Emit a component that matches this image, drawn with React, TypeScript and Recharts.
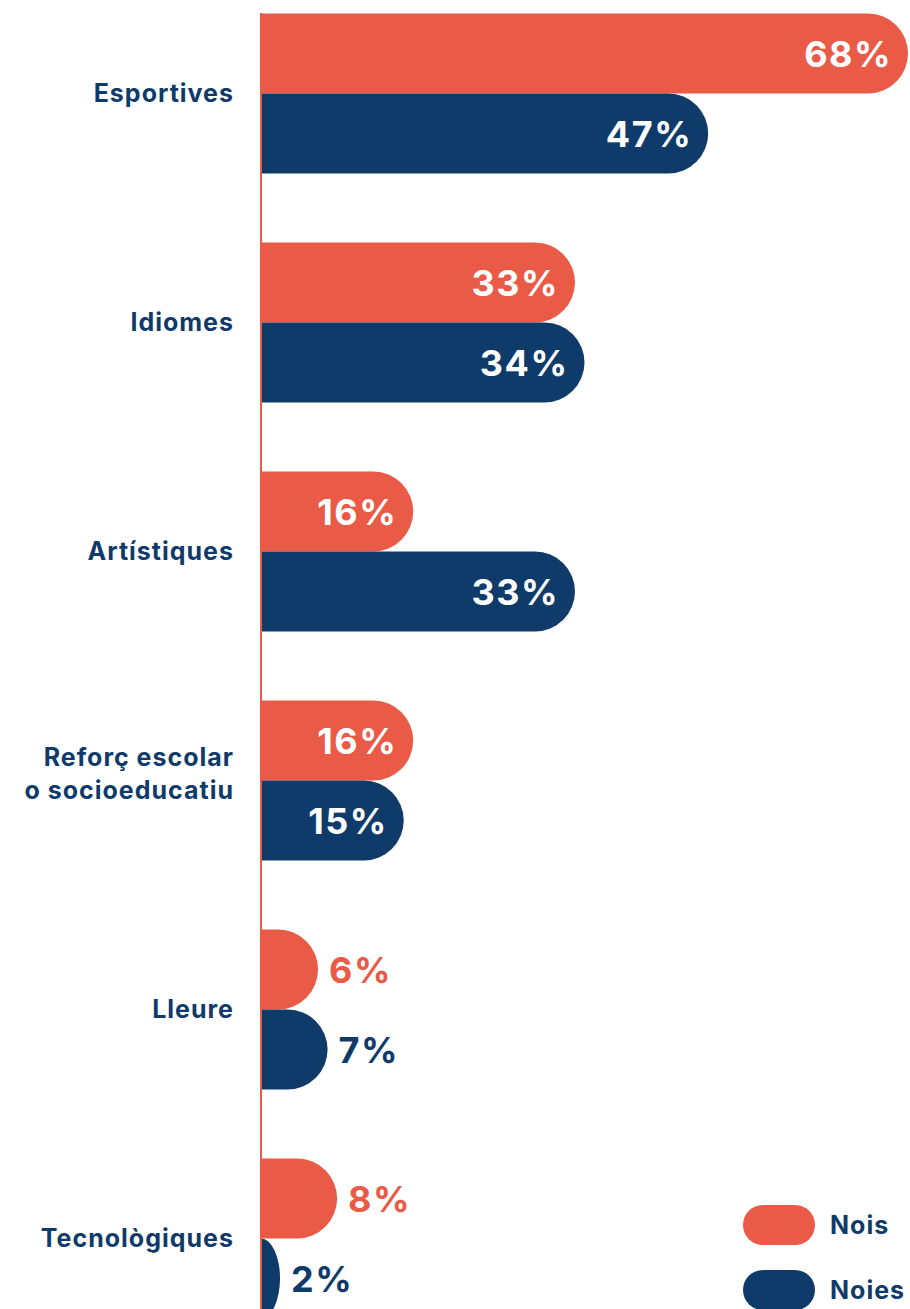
import { BarChart, Bar, XAxis, YAxis, LabelList, Legend } from "recharts";

const categories = [
  "Esportives",
  "Idiomes",
  "Artístiques",
  "Reforç escolar\no socioeducatiu",
  "Lleure",
  "Tecnològiques",
];
const nois = [68, 33, 16, 16, 6, 8];
const noies = [47, 34, 33, 15, 7, 2];
const seriesNames = ["Nois", "Noies"];

const ORANGE = "#E95B46";
const NAVY = "#0F3B6B";
const FONT = "Inter, 'Noto Sans', sans-serif";

const data = categories.map((name, i) => ({ name, nois: nois[i], noies: noies[i] }));

function PillBar(props: any) {
  const { x, y, width, height, fill } = props;
  if (!width || width <= 0) return null;
  const ry = height / 2;
  const rx = Math.min(ry, width);
  const d = `M${x},${y} H${x + width - rx} A${rx},${ry} 0 0 1 ${x + width},${y + ry} A${rx},${ry} 0 0 1 ${x + width - rx},${y + height} H${x} Z`;
  return <path d={d} fill={fill} />;
}

function makeLabel(color: string) {
  return (props: any) => {
    const vb = props.viewBox ?? props;
    const x = vb.x ?? props.x;
    const y = vb.y ?? props.y;
    const width = vb.width ?? props.width;
    const height = vb.height ?? props.height;
    const inside = width > 100;
    return (
      <text
        x={inside ? x + width - 16 : x + width + 11}
        y={y + height / 2}
        dy={13}
        textAnchor={inside ? "end" : "start"}
        fill={inside ? "#fff" : color}
        fontFamily={FONT}
        fontWeight={700}
        fontSize={36}
        letterSpacing={1.5}
      >
        {props.value}%
      </text>
    );
  };
}

function CatTick(props: any) {
  const { x, y, payload } = props;
  const lines = String(payload.value).split("\n");
  const offsets = lines.length > 1 ? [-14, 19] : [9];
  return (
    <g>
      {lines.map((l, i) => (
        <text
          key={i}
          x={x}
          y={y + offsets[i]}
          textAnchor="end"
          fill={NAVY}
          fontFamily={FONT}
          fontWeight={700}
          fontSize={25}
          letterSpacing={1}
        >
          {l}
        </text>
      ))}
    </g>
  );
}

function LegendBox() {
  const colors = [ORANGE, NAVY];
  return (
    <div style={{ fontFamily: FONT }}>
      {seriesNames.map((n, i) => (
        <div key={n} style={{ display: "flex", alignItems: "center", height: 40, marginBottom: 25 }}>
          <div style={{ width: 72, height: 40, borderRadius: 20, background: colors[i] }} />
          <span style={{ marginLeft: 15, fontSize: 25, fontWeight: 700, color: NAVY, letterSpacing: 1 }}>{n}</span>
        </div>
      ))}
    </div>
  );
}

export default function App() {
  return (
    <div style={{ position: "absolute", left: 0, top: 0, width: 910, height: 1309, background: "#fff" }}>
      <BarChart
        width={910}
        height={1309}
        layout="vertical"
        data={data}
        margin={{ top: 13, right: 2, bottom: 0, left: 0 }}
        barGap={0}
        barSize={80}
      >
        <XAxis type="number" domain={[0, 68]} allowDataOverflow hide />
        <YAxis
          type="category"
          dataKey="name"
          width={261}
          padding={{ top: -34.5, bottom: -43.5 }}
          axisLine={{ stroke: ORANGE, strokeWidth: 2 }}
          tickLine={false}
          tickSize={0}
          tickMargin={27}
          interval={0}
          tick={<CatTick />}
        />
        <Legend
          layout="horizontal"
          verticalAlign="middle"
          align="center"
          content={<LegendBox />}
          wrapperStyle={{ left: 743, top: 1205, width: 167, height: 104 }}
        />
        <Bar dataKey="nois" name="Nois" fill={ORANGE} shape={<PillBar />} isAnimationActive={false}>
          <LabelList dataKey="nois" content={makeLabel(ORANGE)} />
        </Bar>
        <Bar dataKey="noies" name="Noies" fill={NAVY} shape={<PillBar />} isAnimationActive={false}>
          <LabelList dataKey="noies" content={makeLabel(NAVY)} />
        </Bar>
      </BarChart>
    </div>
  );
}
